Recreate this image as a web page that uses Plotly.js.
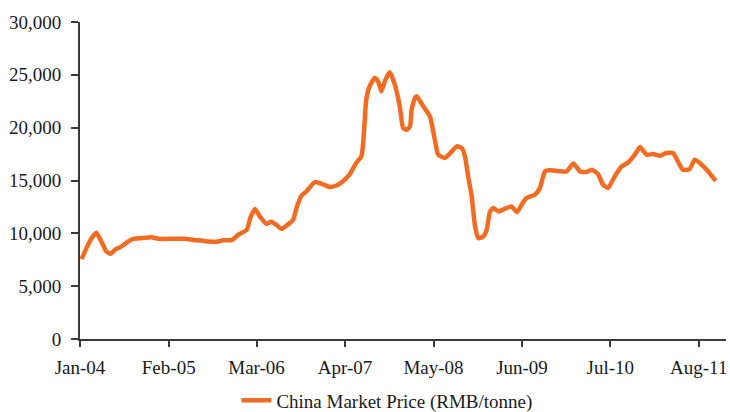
<!DOCTYPE html>
<html>
<head>
<meta charset="utf-8">
<script src="https://cdn.plot.ly/plotly-3.0.1.min.js"></script>
<style>
  html, body { margin: 0; padding: 0; background: #ffffff; }
  #chart { width: 730px; height: 412px; }
</style>
</head>
<body>
<div id="chart"></div>
<script>
// China market price, RMB per tonne
const dates = [
  "2004-01-08","2004-01-30","2004-02-22","2004-03-14","2004-04-06","2004-04-28","2004-05-17","2004-06-05",
  "2004-07-04","2004-08-03","2004-08-26","2004-10-02","2004-11-16","2004-12-16","2005-03-01","2005-04-14",
  "2005-05-28","2005-06-27","2005-07-27","2005-09-10","2005-10-02","2005-11-10","2005-12-09","2006-01-16",
  "2006-02-01","2006-02-22","2006-03-15","2006-04-14","2006-05-06","2006-05-29","2006-06-20","2006-07-12",
  "2006-08-12","2006-08-27","2006-09-18","2006-10-10","2006-11-17","2006-12-17","2007-01-24","2007-02-22",
  "2007-03-22","2007-04-21","2007-05-21","2007-06-13","2007-06-20","2007-06-28","2007-07-05","2007-07-20",
  "2007-08-12","2007-08-27","2007-09-11","2007-09-26","2007-10-18","2007-11-10","2007-12-02","2007-12-17",
  "2008-01-02","2008-01-17","2008-01-24","2008-02-08","2008-02-16","2008-03-16","2008-04-15","2008-05-07",
  "2008-05-22","2008-06-21","2008-07-13","2008-08-13","2008-09-04","2008-09-19","2008-10-03","2008-10-19",
  "2008-11-03","2008-11-18","2008-12-10","2008-12-25","2009-01-09","2009-01-24","2009-02-16","2009-03-16",
  "2009-04-15","2009-05-10","2009-05-30","2009-06-21","2009-07-28","2009-08-20","2009-09-12","2009-10-04",
  "2009-11-26","2009-12-18","2010-01-17","2010-02-16","2010-03-16","2010-04-10","2010-05-07","2010-05-30",
  "2010-06-21","2010-07-21","2010-08-21","2010-09-19","2010-10-19","2010-11-11","2010-12-11","2011-01-10",
  "2011-02-09","2011-03-09","2011-04-08","2011-04-30","2011-05-22","2011-06-21","2011-07-14","2011-08-06",
  "2011-09-12","2011-10-16"
];

const prices = [
  7550, 8600, 9545, 10050, 9220, 8275, 8060, 8436,
  8750, 9220, 9480, 9545, 9640, 9480, 9480, 9480,
  9355, 9320, 9220, 9220, 9355, 9355, 9860, 10330,
  11440, 12300, 11620, 10900, 11100, 10800, 10430, 10710,
  11280, 12390, 13550, 13960, 14850, 14690, 14380, 14530,
  14910, 15545, 16650, 17280, 18230, 20600, 22650, 23915,
  24710, 24390, 23440, 24390, 25240, 24075, 22020, 19970,
  19810, 20120, 21700, 22815, 22970, 22020, 21070, 18860,
  17440, 17130, 17535, 18230, 18075, 17280, 15385, 13490,
  10645, 9545, 9700, 10330, 12070, 12390, 12070, 12320,
  12540, 12010, 12700, 13340, 13650, 14280, 15860, 15960,
  15860, 15860, 16620, 15860, 15800, 16020, 15610, 14600,
  14280, 15385, 16330, 16710, 17440, 18170, 17440, 17505,
  17345, 17600, 17600, 16805, 16020, 16085, 16970, 16650,
  15860, 14975
];

const tickDates = ["2004-01-01","2005-02-01","2006-03-01","2007-04-01","2008-05-01","2009-06-01","2010-07-01","2011-08-01"];
const tickText = ["Jan-04","Feb-05","Mar-06","Apr-07","May-08","Jun-09","Jul-10","Aug-11"];
const seriesName = "China Market Price (RMB/tonne)";

const axisColor = "#3a3a3a";
const textFont = { family: "Liberation Serif, Times New Roman, serif", size: 19, color: "#1a1a1a" };

const trace = {
  x: dates,
  y: prices,
  type: "scatter",
  mode: "lines",
  name: seriesName,
  line: { color: "#F26B22", width: 4.5, shape: "spline", smoothing: 0.5 },
  showlegend: true
};

const layout = {
  width: 730,
  height: 412,
  margin: { l: 80, r: 4, t: 22, b: 73 },
  paper_bgcolor: "#ffffff",
  plot_bgcolor: "#ffffff",
  font: textFont,
  showlegend: true,
  legend: {
    orientation: "h",
    xref: "container",
    yref: "container",
    x: 0.53, xanchor: "center",
    y: 0.028, yanchor: "middle",
    font: textFont,
    bgcolor: "rgba(0,0,0,0)"
  },
  xaxis: {
    type: "date",
    range: ["2004-01-01", "2011-12-01"],
    tickmode: "array",
    tickvals: tickDates,
    ticktext: tickText,
    ticks: "outside",
    ticklen: 6,
    tickwidth: 2,
    tickcolor: axisColor,
    showline: true,
    linecolor: axisColor,
    linewidth: 2,
    showgrid: false,
    zeroline: false,
    tickfont: textFont,
    ticklabelstandoff: 4,
    fixedrange: true
  },
  yaxis: {
    range: [0, 30000],
    tickmode: "linear",
    tick0: 0,
    dtick: 5000,
    tickformat: ",d",
    ticks: "outside",
    ticklen: 7,
    tickwidth: 2,
    tickcolor: axisColor,
    showline: true,
    linecolor: axisColor,
    linewidth: 2,
    showgrid: false,
    zeroline: false,
    tickfont: textFont,
    ticklabelstandoff: 6,
    fixedrange: true
  }
};

Plotly.newPlot("chart", [trace], layout, { displayModeBar: false, staticPlot: true });
</script>
</body>
</html>
